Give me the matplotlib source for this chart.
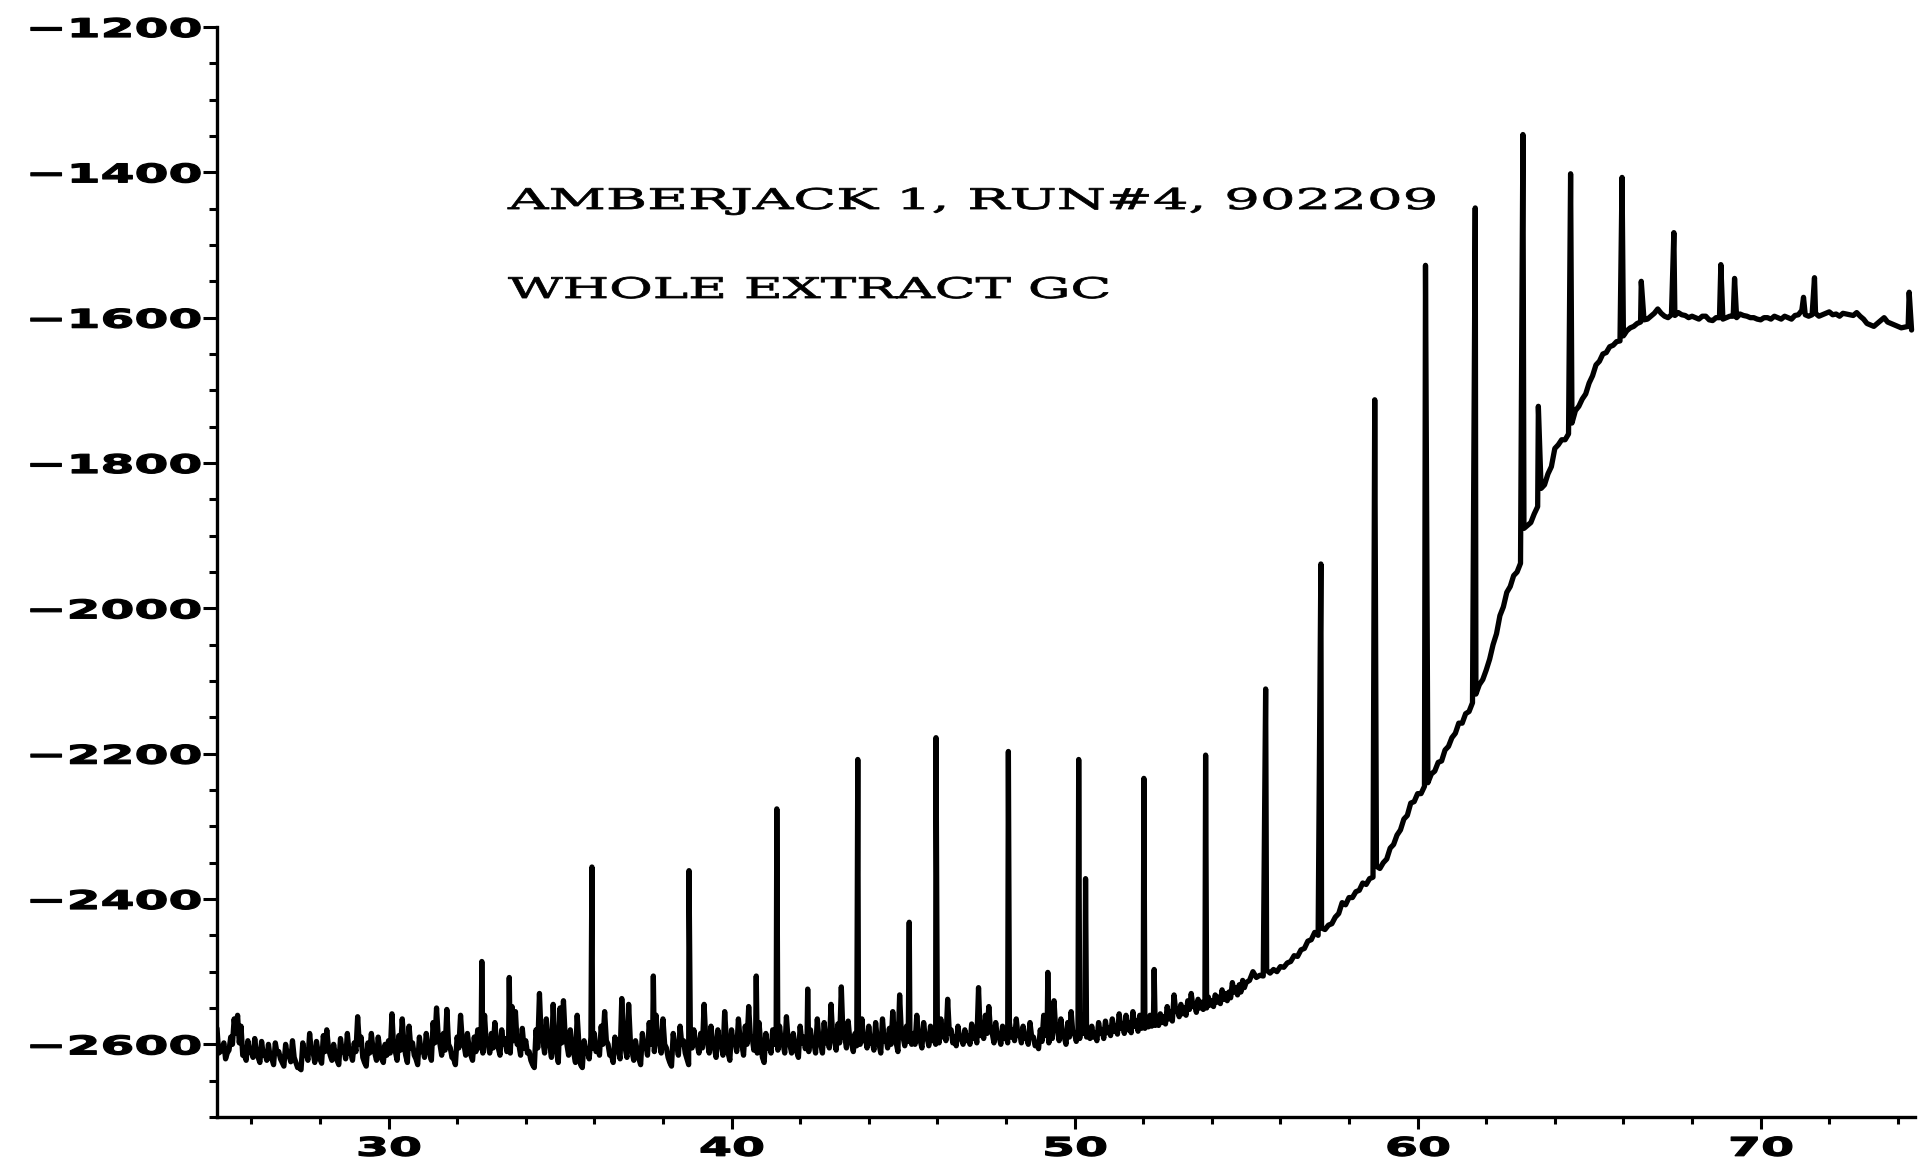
import numpy as np
import matplotlib
matplotlib.use("Agg")
import matplotlib.pyplot as plt
from matplotlib.patheffects import AbstractPathEffect
from matplotlib.transforms import Affine2D
from matplotlib.ticker import MultipleLocator

# ---------------- data ----------------
title_line1 = "AMBERJACK 1, RUN#4, 902209"
title_line2 = "WHOLE EXTRACT GC"

x_limits = (25.0, 74.5)
y_limits = (-2700, -1200)
x_major_step = 10
x_minor_step = 2
y_major_step = 200
y_minor_step = 50

# noisy baseline, readings every 0.1 min from 25.00 to 54.90
noise_start = 25.0
noise_step = 0.1
noise_signal = [
    -2578, -2610, -2598, -2612, -2590, -2565, -2560, -2575, -2615, -2595,
    -2610, -2592, -2618, -2596, -2612, -2600, -2620, -2598, -2610, -2625,
    -2600, -2615, -2595, -2625, -2632, -2598, -2612, -2585, -2610, -2596,
    -2620, -2588, -2580, -2615, -2600, -2622, -2592, -2605, -2585, -2612,
    -2598, -2562, -2590, -2625, -2598, -2585, -2612, -2590, -2620, -2600,
    -2595, -2558, -2610, -2588, -2565, -2615, -2575, -2598, -2620, -2590,
    -2605, -2585, -2612, -2570, -2550, -2600, -2585, -2552, -2605, -2620,
    -2590, -2560, -2600, -2585, -2615, -2590, -2580, -2592, -2560, -2598,
    -2585, -2570, -2605, -2580, -2592, -2600, -2548, -2555, -2600, -2578,
    -2595, -2610, -2628, -2580, -2530, -2595, -2565, -2600, -2545, -2610,
    -2550, -2540, -2600, -2580, -2612, -2560, -2628, -2595, -2610, -2590,
    -2585, -2600, -2575, -2555, -2600, -2615, -2590, -2608, -2537, -2605,
    -2545, -2610, -2595, -2620, -2585, -2600, -2570, -2592, -2560, -2598,
    -2565, -2605, -2625, -2585, -2600, -2575, -2595, -2620, -2590, -2580,
    -2600, -2585, -2545, -2598, -2575, -2605, -2580, -2600, -2555, -2612,
    -2580, -2595, -2565, -2600, -2575, -2548, -2590, -2598, -2570, -2618,
    -2585, -2600, -2580, -2592, -2575, -2598, -2562, -2600, -2585, -2610,
    -2575, -2590, -2595, -2580, -2598, -2565, -2600, -2570, -2590, -2545,
    -2595, -2572, -2521, -2590, -2568, -2598, -2585, -2580, -2565, -2590,
    -2575, -2595, -2570, -2600, -2565, -2590, -2578, -2555, -2598, -2532,
    -2590, -2575, -2585, -2585, -2560, -2595, -2570, -2590, -2575, -2585,
    -2580, -2565, -2575, -2538, -2580, -2590, -2575, -2592, -2580, -2588,
    -2572, -2585, -2522, -2575, -2560, -2548, -2585, -2570, -2590, -2575,
    -2585, -2570, -2580, -2565, -2585, -2575, -2588, -2570, -2590, -2598,
    -2580, -2560, -2585, -2575, -2540, -2580, -2565, -2590, -2570, -2555,
    -2585, -2580, -2560, -2575, -2580, -2575, -2585, -2570, -2580, -2568,
    -2578, -2565, -2575, -2558, -2572, -2560, -2570, -2555, -2568, -2560,
    -2565, -2565, -2560, -2562, -2562, -2558, -2562, -2548, -2555, -2532,
    -2552, -2545, -2550, -2540, -2530, -2545, -2538, -2542, -2540, -2535,
    -2540, -2532, -2535, -2525, -2530, -2528, -2515, -2522, -2518, -2512,
]

# lower side of the noise band, readings at 25.05, 25.15, ... 54.95
noise_lower_start = 25.05
noise_lower = [
    -2612, -2605, -2620, -2608, -2600, -2585, -2598, -2615, -2622, -2610,
    -2618, -2612, -2625, -2615, -2622, -2618, -2628, -2612, -2620, -2630,
    -2615, -2624, -2618, -2632, -2635, -2615, -2622, -2610, -2625, -2612,
    -2626, -2610, -2605, -2622, -2615, -2628, -2610, -2620, -2612, -2622,
    -2610, -2600, -2618, -2630, -2612, -2608, -2622, -2610, -2625, -2615,
    -2612, -2605, -2622, -2608, -2600, -2625, -2605, -2615, -2628, -2610,
    -2618, -2605, -2622, -2598, -2590, -2615, -2608, -2600, -2618, -2628,
    -2605, -2595, -2615, -2605, -2622, -2610, -2605, -2612, -2600, -2612,
    -2605, -2598, -2615, -2600, -2610, -2612, -2595, -2600, -2615, -2605,
    -2612, -2622, -2632, -2605, -2590, -2612, -2598, -2618, -2595, -2625,
    -2598, -2590, -2615, -2605, -2625, -2600, -2632, -2612, -2620, -2605,
    -2610, -2615, -2600, -2595, -2615, -2625, -2608, -2620, -2590, -2618,
    -2595, -2622, -2610, -2628, -2605, -2615, -2600, -2610, -2595, -2612,
    -2600, -2618, -2630, -2605, -2615, -2600, -2612, -2628, -2605, -2598,
    -2612, -2605, -2595, -2612, -2598, -2618, -2600, -2615, -2595, -2622,
    -2600, -2610, -2595, -2615, -2600, -2590, -2608, -2612, -2598, -2625,
    -2605, -2612, -2600, -2608, -2598, -2612, -2595, -2612, -2602, -2618,
    -2598, -2606, -2610, -2600, -2612, -2595, -2612, -2598, -2605, -2590,
    -2608, -2598, -2590, -2605, -2595, -2610, -2602, -2600, -2595, -2605,
    -2598, -2608, -2595, -2612, -2595, -2605, -2600, -2590, -2610, -2585,
    -2602, -2596, -2600, -2600, -2590, -2605, -2592, -2602, -2595, -2600,
    -2598, -2590, -2595, -2585, -2598, -2602, -2592, -2600, -2595, -2600,
    -2592, -2598, -2588, -2592, -2585, -2582, -2598, -2590, -2600, -2592,
    -2598, -2590, -2595, -2588, -2598, -2592, -2600, -2590, -2602, -2606,
    -2596, -2588, -2598, -2592, -2580, -2595, -2588, -2600, -2590, -2585,
    -2596, -2592, -2585, -2590, -2592, -2590, -2595, -2585, -2592, -2584,
    -2588, -2582, -2586, -2578, -2585, -2580, -2584, -2575, -2582, -2578,
    -2578, -2576, -2575, -2574, -2574, -2570, -2572, -2565, -2568, -2555,
    -2562, -2558, -2560, -2552, -2548, -2556, -2550, -2552, -2550, -2546,
    -2548, -2542, -2544, -2538, -2540, -2536, -2528, -2532, -2528, -2522,
]

# rising baseline, readings every 0.2 min from 55.0 to 74.4
rise_start = 55.0
rise_step = 0.2
rise_signal = [
    -2515, -2500, -2505, -2498, -2497,
    -2493, -2488, -2478, -2470, -2458,
    -2446, -2440, -2436, -2425, -2405,
    -2398, -2390, -2378, -2372, -2355,
    -2350, -2330, -2312, -2290, -2268,
    -2255, -2245, -2228, -2212, -2195,
    -2178, -2158, -2145, -2130, -2105,
    -2085, -2050, -2010, -1978, -1955,
    -1938, -1886, -1870, -1835, -1815,
    -1780, -1768, -1760, -1728, -1712,
    -1690, -1665, -1650, -1640, -1633,
    -1625, -1614, -1608, -1603, -1598,
    -1588, -1598, -1596, -1593, -1597,
    -1598, -1602, -1598, -1604, -1600,
    -1600, -1598, -1595, -1598, -1600,
    -1603, -1600, -1598, -1602, -1600,
    -1597, -1590, -1598, -1594, -1596,
    -1592, -1595, -1594, -1596, -1593,
    -1602, -1610, -1608, -1600, -1608,
    -1612, -1613, -1617,
]

# rising baseline, in-between readings at 55.1, 55.3, ... 74.3
rise_mid_start = 55.1
rise_mid = [
    -2512, -2508, -2506, -2502, -2500,
    -2494, -2486, -2479, -2468, -2456,
    -2450, -2442, -2434, -2420, -2408,
    -2398, -2388, -2380, -2370, -2358,
    -2345, -2325, -2305, -2285, -2266,
    -2255, -2240, -2224, -2210, -2190,
    -2172, -2158, -2142, -2118, -2098,
    -2070, -2035, -1998, -1970, -1950,
    -1890, -1882, -1860, -1830, -1805,
    -1775, -1768, -1745, -1722, -1705,
    -1680, -1660, -1648, -1638, -1632,
    -1618, -1612, -1606, -1602, -1594,
    -1594, -1600, -1597, -1596, -1600,
    -1600, -1598, -1603, -1600, -1602,
    -1598, -1600, -1597, -1600, -1602,
    -1600, -1602, -1600, -1598, -1602,
    -1596, -1596, -1596, -1598, -1594,
    -1596, -1598, -1595, -1597, -1598,
    -1608, -1612, -1604, -1606, -1610,
    -1614, -1612,
]

# peak apexes (retention time, signal)
peak_time = [32.72, 33.52, 35.93, 37.72, 38.76, 40.72, 41.32, 42.22, 43.68,
             45.18, 45.96, 48.07, 49.22, 50.12, 50.32, 52.02, 52.32, 53.82,
             55.57, 57.18, 58.75, 60.23, 61.68, 63.07, 63.52, 64.46, 65.96,
             66.52, 67.47, 68.84, 69.24, 71.25, 71.57, 74.33]
peak_signal = [-2486, -2508, -2356, -2506, -2361, -2506, -2276, -2524, -2208,
               -2432, -2178, -2197, -2501, -2208, -2372, -2234, -2497, -2202,
               -2111, -1939, -1713, -1528, -1449, -1348, -1722, -1402, -1407,
               -1550, -1483, -1527, -1546, -1572, -1545, -1565]


# ---------------- helpers ----------------
class HStretch(AbstractPathEffect):
    """Draw text glyphs stretched horizontally (plotter-style wide lettering)."""

    def __init__(self, factor, anchor="left", stroke=0.0):
        super().__init__()
        self.factor = factor
        self.anchor = anchor
        self.stroke = stroke

    def draw_path(self, renderer, gc, tpath, affine, rgbFace=None):
        verts = tpath.vertices
        if len(verts):
            pts = affine.transform(verts)
        else:
            pts = np.zeros((1, 2))
        if self.anchor == "left":
            x0 = affine.transform(np.array([[0.0, 0.0]]))[0, 0]
        elif self.anchor == "right":
            x0 = pts[:, 0].max()
        else:
            x0 = 0.5 * (pts[:, 0].min() + pts[:, 0].max())
        stretch = Affine2D().translate(-x0, 0).scale(self.factor, 1.0).translate(x0, 0)
        gc0 = renderer.new_gc()
        gc0.copy_properties(gc)
        gc0.set_linewidth(self.stroke)
        gc0.set_joinstyle("round")
        renderer.draw_path(gc0, tpath, affine + stretch, rgbFace)
        gc0.restore()


def sample_times(start, step, values):
    return start + step * np.arange(len(values))


# ---------------- assemble trace ----------------
t_all = np.concatenate([
    sample_times(noise_start, noise_step, noise_signal),
    sample_times(noise_lower_start, noise_step, noise_lower),
    sample_times(rise_start, rise_step, rise_signal),
    sample_times(rise_mid_start, rise_step, rise_mid),
    np.asarray(peak_time, float),
])
v_all = np.concatenate([
    np.asarray(noise_signal, float),
    np.asarray(noise_lower, float),
    np.asarray(rise_signal, float),
    np.asarray(rise_mid, float),
    np.asarray(peak_signal, float),
])
order = np.argsort(t_all, kind="stable")
t_all = t_all[order]
v_all = v_all[order]

# ---------------- figure ----------------
W, H, DPI = 1920, 1163, 100
fig = plt.figure(figsize=(W / DPI, H / DPI), dpi=DPI, facecolor="white")
ax = fig.add_axes([217 / W, 1 - 1117 / H, (1915 - 217) / W, (1117 - 27) / H])
ax.set_facecolor("white")

ax.plot(t_all, v_all, color="black", lw=3.8,
        solid_joinstyle="round", solid_capstyle="round")

ax.set_xlim(*x_limits)
ax.set_ylim(*y_limits)
ax.xaxis.set_major_locator(MultipleLocator(x_major_step))
ax.xaxis.set_minor_locator(MultipleLocator(x_minor_step))
ax.yaxis.set_major_locator(MultipleLocator(y_major_step))
ax.yaxis.set_minor_locator(MultipleLocator(y_minor_step))

for side in ("top", "right"):
    ax.spines[side].set_visible(False)
for side in ("left", "bottom"):
    ax.spines[side].set_linewidth(2.4)
    ax.spines[side].set_color("black")

ax.tick_params(axis="y", which="major", direction="out", length=10, width=2.2,
               pad=1, labelsize=18.5, colors="black")
ax.tick_params(axis="y", which="minor", direction="out", length=6, width=2.2)
ax.tick_params(axis="x", which="major", direction="out", length=8.5, width=2.2,
               pad=5, labelsize=18.5, colors="black")
ax.tick_params(axis="x", which="minor", direction="out", length=5, width=2.2)

t1 = fig.text(508 / W, 1 - 209 / H, title_line1, family="DejaVu Serif",
              fontsize=20.5, ha="left", va="baseline", color="black")
t2 = fig.text(508 / W, 1 - 298 / H, title_line2, family="DejaVu Serif",
              fontsize=20.5, ha="left", va="baseline", color="black")
t1.set_path_effects([HStretch(1.97, "left", stroke=0.6)])
t2.set_path_effects([HStretch(1.87, "left", stroke=0.6)])

fig.canvas.draw()
for lab in ax.get_yticklabels():
    lab.set_fontweight("bold")
    lab.set_family("DejaVu Sans")
    lab.set_path_effects([HStretch(1.9, "right", stroke=0.9)])
for lab in ax.get_xticklabels():
    lab.set_fontweight("bold")
    lab.set_family("DejaVu Sans")
    lab.set_path_effects([HStretch(1.85, "center", stroke=0.9)])

fig.savefig("out.png", dpi=DPI, facecolor="white")
